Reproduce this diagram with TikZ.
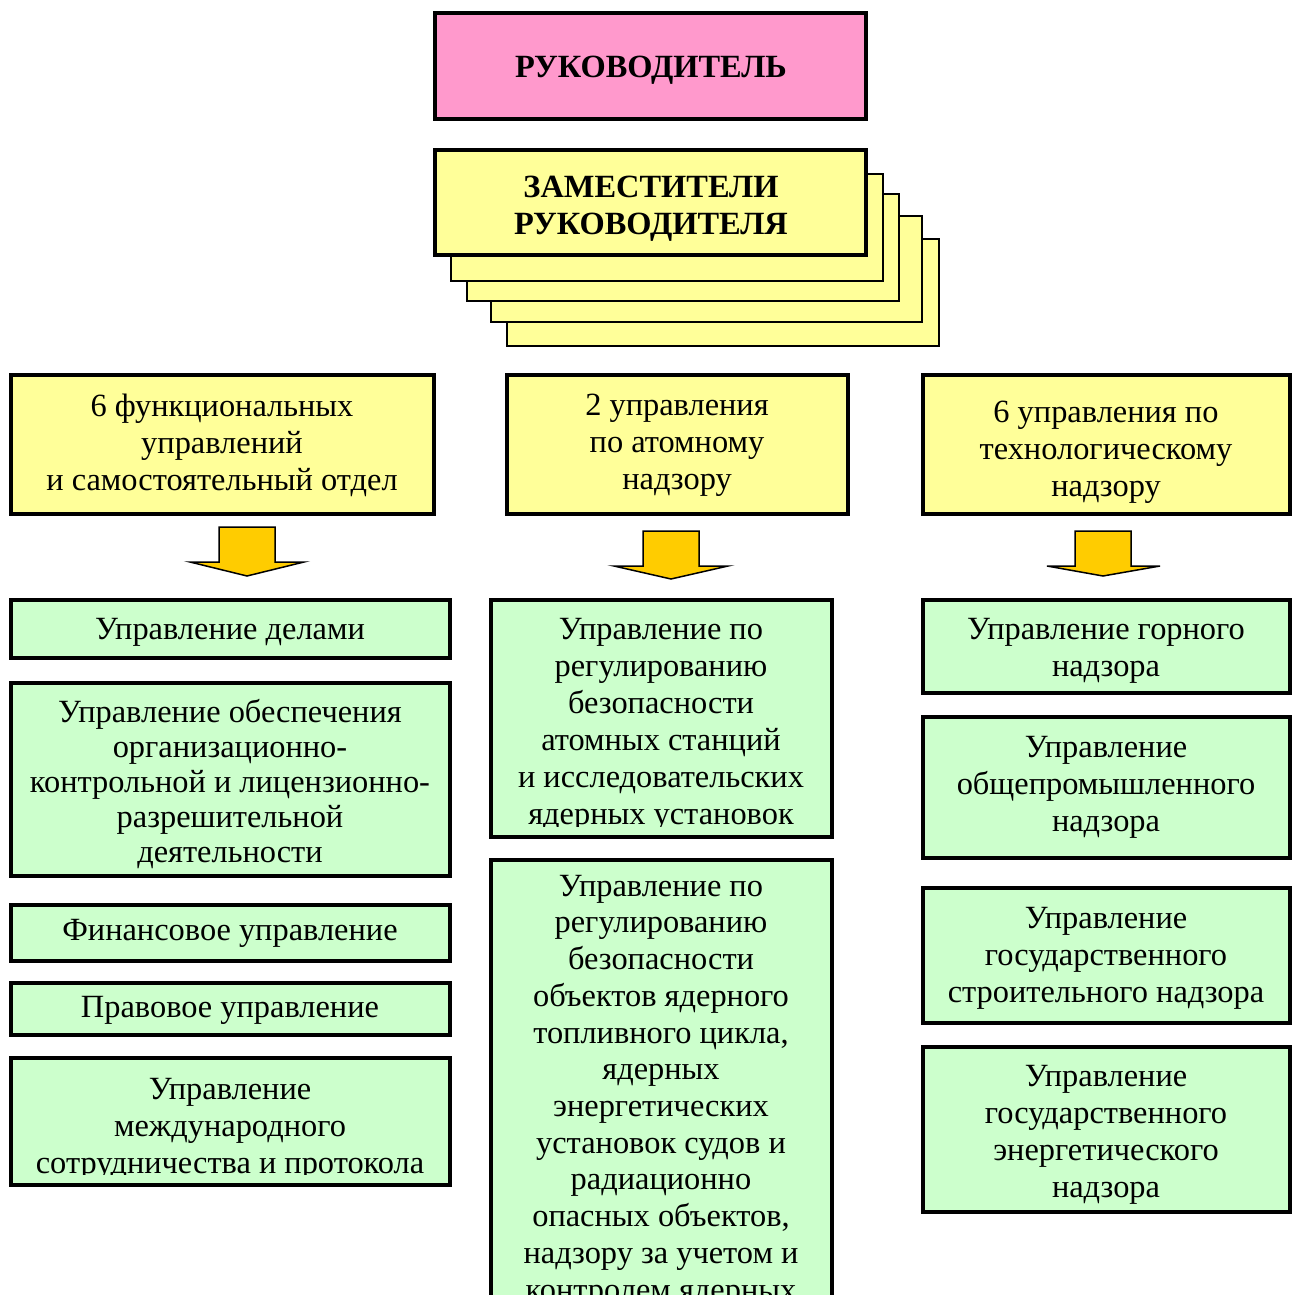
\documentclass[tikz,border=0pt]{standalone}
\usepackage{fontspec}
\setmainfont{Liberation Serif}
\definecolor{pinkc}{HTML}{FF99CC}
\definecolor{yellowc}{HTML}{FFFF99}
\definecolor{greenc}{HTML}{CCFFCC}
\definecolor{arrowc}{HTML}{FFCC00}
\newcommand\boxat[6]{\node[#2, minimum width={(#5-#3)*1pt}, minimum height={(#6-#4)*1pt}] (#1) at (#3,#4) {};}
\tikzset{
  basebox/.style={draw=black, line width=3.4pt, inner sep=0pt, outer sep=0pt, anchor=north west},
  pinkbox/.style={basebox, fill=pinkc},
  ybox/.style={basebox, fill=yellowc},
  gbox/.style={basebox, fill=greenc},
  backbox/.style={draw=black, line width=1.6pt, fill=yellowc, inner sep=0pt, anchor=north west},
  txt/.style={align=center, inner sep=0pt, yshift=-3.5pt, font=\fontsize{32.4}{37}\selectfont},
  btxt/.style={txt, font=\fontsize{32.4}{37}\selectfont\bfseries},
  blockarrow/.style={draw=black, line width=1.5pt, fill=arrowc, line join=miter},
}
\begin{document}
\begin{tikzpicture}[x=1pt, y=-1pt]
\useasboundingbox[fill=white] (0,0) rectangle (1299,1295);
% top
\boxat{boss}{pinkbox}{435}{13}{866}{119}
\node[btxt] (bosst) at (651,67) {РУКОВОДИТЕЛЬ};
% deputies stack
\boxat{back5}{backbox}{506}{238}{938}{345}
\boxat{back4}{backbox}{490}{215}{921}{321}
\boxat{back3}{backbox}{466}{193}{898}{300}
\boxat{back2}{backbox}{450}{173}{882}{280}
\boxat{dep}{ybox}{435}{150}{866}{255}
\node[btxt] (dept) at (651,205) {ЗАМЕСТИТЕЛИ\\РУКОВОДИТЕЛЯ};
% yellow row
\boxat{y1}{ybox}{11}{375}{434}{514}
\node[txt] (y1t) at (222,441.5) {6 функциональных\\управлений\\и самостоятельный отдел};
\boxat{y2}{ybox}{507}{375}{848}{514}
\node[txt] (y2t) at (677,441.5) {2 управления\\по атомному\\надзору};
\boxat{y3}{ybox}{923}{375}{1290}{514}
\node[txt] (y3t) at (1106,449) {6 управления по\\технологическому\\надзору};
% block arrows
\draw[blockarrow] (219,527) -- (275,527) -- (275,562) -- (304,562) -- (247,576) -- (190,562) -- (219,562) -- cycle;
\draw[blockarrow] (643,531) -- (699,531) -- (699,566) -- (728,566) -- (671,579) -- (614,566) -- (643,566) -- cycle;
\draw[blockarrow] (1075,531) -- (1131,531) -- (1131,566) -- (1160,566) -- (1103,576) -- (1047,566) -- (1075,566) -- cycle;
% left column
\boxat{gl1}{gbox}{11}{600}{450}{658}
\node[txt] (gl1t) at (230,629) {Управление делами};
\boxat{gl2}{gbox}{11}{683}{450}{876}
\node[txt, font=\fontsize{32.4}{35}\selectfont] (gl2t) at (230,781) {Управление обеспечения\\организационно-\\контрольной и лицензионно-\\разрешительной\\деятельности};
\boxat{gl3}{gbox}{11}{905}{450}{961}
\node[txt] (gl3t) at (230,930) {Финансовое управление};
\boxat{gl4}{gbox}{11}{983}{450}{1035}
\node[txt] (gl4t) at (230,1007) {Правовое управление};
\boxat{gl5}{gbox}{11}{1058}{450}{1185}
\begin{scope}
\clip (14,1061) rectangle (447,1174);
\node[txt] (gl5t) at (230,1126) {Управление\\международного\\сотрудничества и протокола};
\end{scope}
% middle column
\boxat{gm1}{gbox}{491}{600}{832}{837}
\begin{scope}
\clip (494,603) rectangle (829,826);
\node[txt] (gm1t) at (661,721.5) {Управление по\\регулированию\\безопасности\\атомных станций\\и исследовательских\\ядерных установок};
\end{scope}
\boxat{gm2}{gbox}{491}{860}{832}{1330}
\begin{scope}
\clip (494,863) rectangle (829,1300);
\node[txt, font=\fontsize{32.4}{36.73}\selectfont] (gm2t) at (661,1087.5) {Управление по\\регулированию\\безопасности\\объектов ядерного\\топливного цикла,\\ядерных\\энергетических\\установок судов и\\радиационно\\опасных объектов,\\надзору за учетом и\\контролем ядерных};
\end{scope}
% right column
\boxat{gr1}{gbox}{923}{600}{1290}{693}
\node[txt] (gr1t) at (1106,647.5) {Управление горного\\надзора};
\boxat{gr2}{gbox}{923}{717}{1290}{858}
\node[txt] (gr2t) at (1106,784) {Управление\\общепромышленного\\надзора};
\boxat{gr3}{gbox}{923}{888}{1290}{1023}
\node[txt] (gr3t) at (1106,955) {Управление\\государственного\\строительного надзора};
\boxat{gr4}{gbox}{923}{1047}{1290}{1212}
\node[txt] (gr4t) at (1106,1131.5) {Управление\\государственного\\энергетического\\надзора};
\end{tikzpicture}
\end{document}
